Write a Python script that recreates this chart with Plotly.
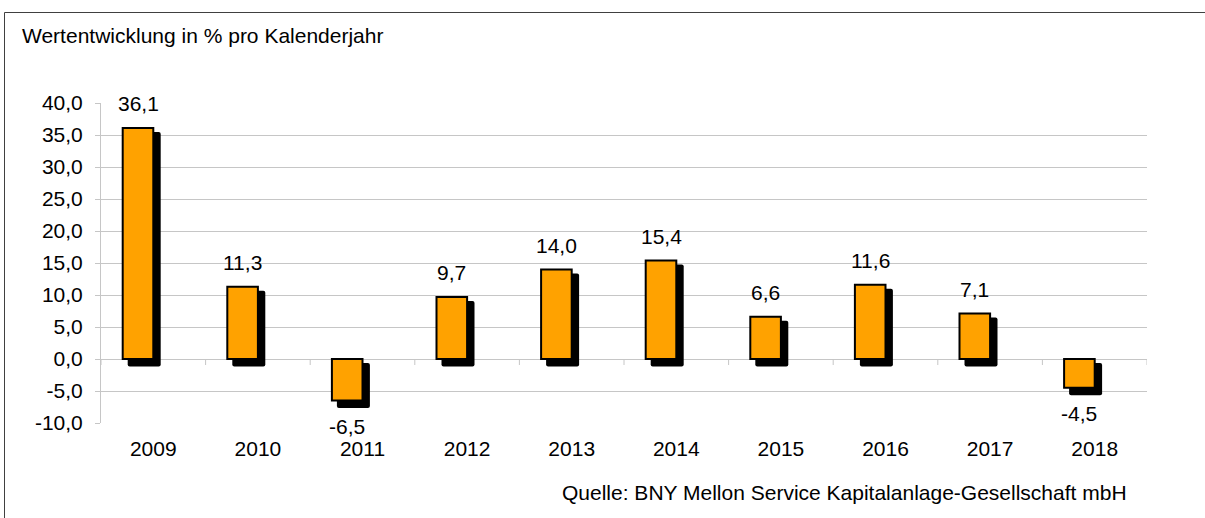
import plotly.graph_objects as go

years = ["2009", "2010", "2011", "2012", "2013", "2014", "2015", "2016", "2017", "2018"]
values = [36.1, 11.3, -6.5, 9.7, 14.0, 15.4, 6.6, 11.6, 7.1, -4.5]
y_ticks = [-10, -5, 0, 5, 10, 15, 20, 25, 30, 35, 40]
y_ticklabels = ["-10,0", "-5,0", "0,0", "5,0", "10,0", "15,0", "20,0", "25,0", "30,0", "35,0", "40,0"]

title_text = "Wertentwicklung in % pro Kalenderjahr"
source_text = "Quelle: BNY Mellon Service Kapitalanlage-Gesellschaft mbH"

W, H = 1205, 518
ML, MR, MT, MB = 101, 58, 103, 95
plot_w = W - ML - MR
plot_h = H - MT - MB
ymin, ymax = -10, 40
px_per_unit = plot_h / (ymax - ymin)
cat_px = plot_w / len(years)

FONT = "Liberation Sans, Arial, sans-serif"
FS = 21
ORANGE = "#FFA200"
GRID = "#c6c6c6"

idx = list(range(len(years)))
bar_w = 30.6 / cat_px
bar_off = -bar_w
sh_w = 33.0 / cat_px
sh_off = bar_off + 5.0 / cat_px
d_top = 4.0 / px_per_unit
d_bot = 7.5 / px_per_unit

sh_base, sh_h = [], []
for v in values:
    top = max(v, 0) - d_top
    bot = min(v, 0) - d_bot
    sh_base.append(bot)
    sh_h.append(top - bot)

fig = go.Figure()

# category boundary ticks at zero line
tx, ty = [], []
tick_len = 6.0 / px_per_unit
for k in range(len(years) + 1):
    b = k - 0.5
    tx += [b, b, None]
    ty += [0, -tick_len, None]
fig.add_trace(go.Scatter(x=tx, y=ty, mode="lines", line=dict(color=GRID, width=1),
                         hoverinfo="skip", showlegend=False))

# shadow
fig.add_trace(go.Bar(x=idx, y=sh_h, base=sh_base, width=sh_w, offset=sh_off,
                     marker=dict(color="#000000", line=dict(width=0), cornerradius=2),
                     hoverinfo="skip", showlegend=False))
# bars
fig.add_trace(go.Bar(x=idx, y=values, width=bar_w, offset=bar_off,
                     marker=dict(color=ORANGE, line=dict(color="#000000", width=2)),
                     showlegend=False))

annotations = []
for i, v in zip(idx, values):
    annotations.append(dict(
        x=i + bar_off / 2, y=v, xref="x", yref="y",
        text=f"{v:.1f}".replace(".", ","), showarrow=False,
        yanchor="middle", xanchor="center",
        yshift=24 if v >= 0 else -26,
        font=dict(family=FONT, size=FS, color="#000000")))

annotations.append(dict(
    x=(20 - ML) / plot_w, y=(H - MB - 35) / plot_h, xref="paper", yref="paper",
    text=title_text, showarrow=False, xanchor="left", yanchor="middle",
    font=dict(family=FONT, size=FS, color="#000000")))
annotations.append(dict(
    x=(1129 - ML) / plot_w, y=(H - MB - 492) / plot_h, xref="paper", yref="paper",
    text=source_text, showarrow=False, xanchor="right", yanchor="middle",
    font=dict(family=FONT, size=21, color="#000000")))

shapes = [
    dict(type="line", xref="paper", yref="paper",
         x0=(4.5 - ML) / plot_w, x1=(W + 5 - ML) / plot_w,
         y0=(H - MB - 12.5) / plot_h, y1=(H - MB - 12.5) / plot_h,
         line=dict(color="#404040", width=1)),
    dict(type="line", xref="paper", yref="paper",
         x0=(4.5 - ML) / plot_w, x1=(4.5 - ML) / plot_w,
         y0=(H - MB - 12.5) / plot_h, y1=(H - MB - H - 5) / plot_h,
         line=dict(color="#404040", width=1)),
]

fig.update_layout(
    width=W, height=H,
    margin=dict(l=ML, r=MR, t=MT, b=MB, pad=0),
    paper_bgcolor="white", plot_bgcolor="white",
    barmode="overlay", separators=",.",
    annotations=annotations, shapes=shapes,
    font=dict(family=FONT, size=FS, color="#000000"),
)
fig.update_xaxes(range=[-0.5, len(years) - 0.5], tickmode="array", tickvals=idx, ticktext=years,
                 showgrid=False, zeroline=False, showline=False, ticks="",
                 ticklabelstandoff=11, tickfont=dict(family=FONT, size=FS, color="#000000"))
fig.update_yaxes(range=[ymin, ymax], tickmode="array", tickvals=y_ticks, ticktext=y_ticklabels,
                 showgrid=True, gridcolor=GRID, gridwidth=1, zeroline=False,
                 showline=True, linecolor=GRID, linewidth=1,
                 ticks="outside", ticklen=5, tickcolor=GRID, tickwidth=1,
                 ticklabelstandoff=8, tickfont=dict(family=FONT, size=FS, color="#000000"))

fig.write_html("out.html", config={"displayModeBar": False},
               post_script="document.body.style.margin='0';")
